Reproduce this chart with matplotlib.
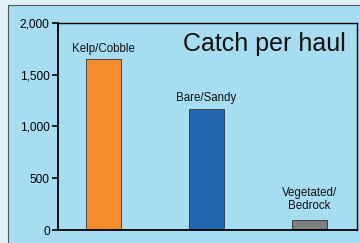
import matplotlib.pyplot as plt
from matplotlib.patches import Rectangle

habitats = ['Kelp/Cobble', 'Bare/Sandy', 'Vegetated/\nBedrock']
catch = [1650, 1170, 100]
colors = ['#F68B2B', '#2267B2', '#7F7F7F']
yticks = [0, 500, 1000, 1500, 2000]

fig = plt.figure(figsize=(3.6, 2.43), dpi=100)
fig.patch.set_facecolor('#E2F1F3')
# light blue panel behind the chart
fig.patches.append(Rectangle((8/360, -0.01), 1.0, 1 - 5.5/243 + 0.01, transform=fig.transFigure,
                             facecolor='#A7DDF1', edgecolor='#555555', lw=0.8, zorder=-5))

ax = fig.add_axes([58/360, 1 - 230/243, 299/360, 207/243])
ax.set_zorder(2)
ax.set_facecolor('#A7DDF1')
x = list(range(len(habitats)))
ax.bar(x, catch, width=0.34, color=colors, edgecolor='#333333', linewidth=0.6)
gaps = [5.5, 5.5, 8]
for xi, v, name, g in zip(x, catch, habitats, gaps):
    ax.annotate(name, (xi, v), xytext=(0, g), textcoords='offset points',
                ha='center', va='baseline', fontsize=8.3,
                family='Liberation Sans', color='#111111', linespacing=1.1)
ax.set_xlim(-0.44, 2.46)
ax.set_ylim(0, 2000)
ax.set_yticks(yticks)
ax.set_yticklabels([f'{t:,}' for t in yticks], fontsize=8.6, family='Liberation Sans')
ax.set_xticks([])
ax.tick_params(axis='y', direction='out', length=4, width=1.2, pad=2)
for s in ax.spines.values():
    s.set_linewidth(1.3)
ax.spines['right'].set_linewidth(1.0)
ax.spines['top'].set_linewidth(1.0)
ax.text(288/299, 1 - 28/207, 'Catch per haul', transform=ax.transAxes, ha='right', va='baseline',
        fontsize=18, family='Liberation Sans', color='#111111')

fig.savefig('out.png', dpi=100, facecolor=fig.get_facecolor())
